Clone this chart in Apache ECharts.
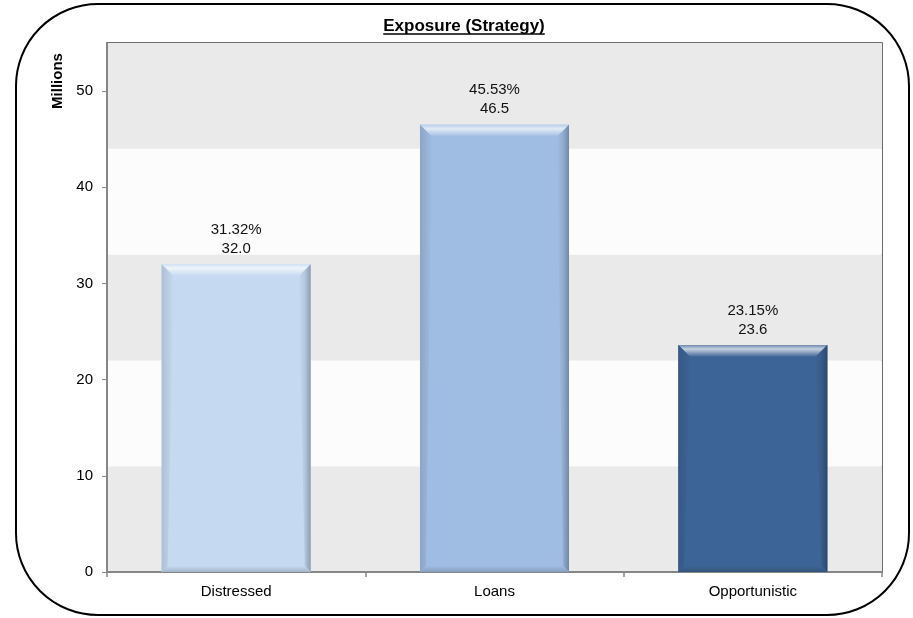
<!DOCTYPE html>
<html>
<head>
<meta charset="utf-8">
<script src="https://cdn.jsdelivr.net/npm/echarts@6/dist/echarts.min.js"></script>
<style>
  html, body { margin: 0; padding: 0; background: #fff; }
  #chart { width: 913px; height: 618px; }
</style>
</head>
<body>
<div id="chart"></div>
<script>
// Exposure by strategy, in millions
const categories = ['Distressed', 'Loans', 'Opportunistic'];
const exposure = [32.0, 46.5, 23.6];
const sharePct = [31.32, 45.53, 23.15];
const yTicks = [0, 10, 20, 30, 40, 50];

const barColors = ['#C5D9F1', '#9FBCE2', '#3D6496'];
const FONT = '"Liberation Sans", Arial, sans-serif';

const chart = echarts.init(document.getElementById('chart'), null, { renderer: 'canvas' });

// width of the title, for the underline
const titleText = 'Exposure (Strategy)';
const titleFont = 'bold 17px ' + FONT;
const ctx = document.createElement('canvas').getContext('2d');
ctx.font = titleFont;
const titleW = ctx.measureText(titleText).width;
const titleCx = 464;

// blend a hex colour towards white (t > 0) or black (t < 0)
function shade(hex, t) {
  const n = parseInt(hex.slice(1), 16);
  const rgb = [(n >> 16) & 255, (n >> 8) & 255, n & 255].map(ch =>
    Math.round(t >= 0 ? ch + (255 - ch) * t : ch * (1 + t)));
  return 'rgb(' + rgb.join(',') + ')';
}

function bevelBar(params, api) {
  const i = api.value(0);
  const v = api.value(1);
  const top = api.coord([i, v]);
  const base = api.coord([i, 0]);
  const w = api.size([1, 0])[0] * 0.577;
  const x0 = top[0] - w / 2, x1 = top[0] + w / 2;
  const y0 = top[1], y1 = base[1];
  const b = 12;
  const s = 6;
  const c = barColors[i];
  const grad = (x, y, x2, y2, stops) => ({
    type: 'linear', x: x, y: y, x2: x2, y2: y2,
    colorStops: stops.map((col, k) => ({ offset: k / (stops.length - 1), color: col }))
  });
  return {
    type: 'group',
    children: [
      { type: 'rect', shape: { x: x0, y: y0, width: w, height: y1 - y0 }, style: { fill: c } },
      // top bevel: bright highlight
      { type: 'polygon', shape: { points: [[x0, y0], [x1, y0], [x1 - b, y0 + b], [x0 + b, y0 + b]] },
        style: { fill: grad(0, 0, 0, 1, [shade(c, 0.25), shade(c, 0.7), shade(c, 0.35), c]) } },
      // right side: shaded
      { type: 'polygon', shape: { points: [[x1, y0], [x1, y1], [x1 - s, y1 - s], [x1 - b, y0 + b]] },
        style: { fill: grad(1, 0, 0, 0, [shade(c, -0.28), shade(c, -0.08), c]) } },
      // bottom bevel
      { type: 'polygon', shape: { points: [[x0, y1], [x1, y1], [x1 - s, y1 - s], [x0 + s, y1 - s]] },
        style: { fill: grad(0, 1, 0, 0, [shade(c, -0.16), c]) } },
      // left side
      { type: 'polygon', shape: { points: [[x0, y0], [x0, y1], [x0 + s, y1 - s], [x0 + b, y0 + b]] },
        style: { fill: grad(0, 0, 1, 0, [shade(c, -0.12), c]) } },
      { type: 'text', style: {
          text: sharePct[i].toFixed(2) + '%\n' + v.toFixed(1),
          x: top[0], y: y0 - 6, align: 'center', verticalAlign: 'bottom',
          font: '15px ' + FONT, lineHeight: 19, fill: '#111' } }
    ]
  };
}

chart.setOption({
  animation: false,
  backgroundColor: '#ffffff',
  grid: { left: 107, right: 31, top: 43, bottom: 46, show: true,
          borderColor: '#3c3c3c', borderWidth: 1.5, backgroundColor: 'transparent' },
  xAxis: {
    type: 'category',
    data: categories,
    axisLine: { lineStyle: { color: '#868686', width: 2 } },
    axisTick: { show: true, length: 5, lineStyle: { color: '#868686', width: 1.5 } },
    axisLabel: { color: '#000', fontFamily: FONT, fontSize: 15, margin: 12 },
    splitLine: { show: false }
  },
  yAxis: [
    {
      type: 'value', min: 0, max: 55, interval: 10,
      axisLine: { show: true, lineStyle: { color: '#868686', width: 2 } },
      axisTick: { show: true, length: 5, customValues: yTicks, lineStyle: { color: '#868686' } },
      axisLabel: { color: '#000', fontFamily: FONT, fontSize: 15, margin: 14, customValues: yTicks },
      splitLine: { show: false }
    },
    {
      type: 'value', min: 0, max: 55, interval: 11, position: 'right',
      axisLine: { show: false }, axisTick: { show: false }, axisLabel: { show: false },
      splitLine: { show: false },
      splitArea: { show: true, areaStyle: { color: ['#EAEAEA', '#FCFCFC'] } }
    }
  ],
  series: [{
    type: 'custom',
    renderItem: bevelBar,
    encode: { x: 0, y: 1 },
    data: exposure.map((v, i) => [i, v]),
    z: 3
  }],
  graphic: [
    { type: 'rect', shape: { x: 16, y: 4, width: 893, height: 611, r: 82 },
      style: { fill: null, stroke: '#000', lineWidth: 2 }, z: 10 },
    { type: 'text', x: titleCx, y: 26,
      style: { text: titleText, font: titleFont, fill: '#000', align: 'center', verticalAlign: 'middle' }, z: 10 },
    { type: 'line', shape: { x1: titleCx - titleW / 2, y1: 34, x2: titleCx + titleW / 2, y2: 34 },
      style: { stroke: '#000', lineWidth: 1.5 }, z: 10 },
    { type: 'text', x: 58, y: 81, rotation: Math.PI / 2,
      style: { text: 'Millions', font: 'bold 15px ' + FONT, fill: '#000', align: 'center', verticalAlign: 'middle' }, z: 10 }
  ]
});
</script>
</body>
</html>
